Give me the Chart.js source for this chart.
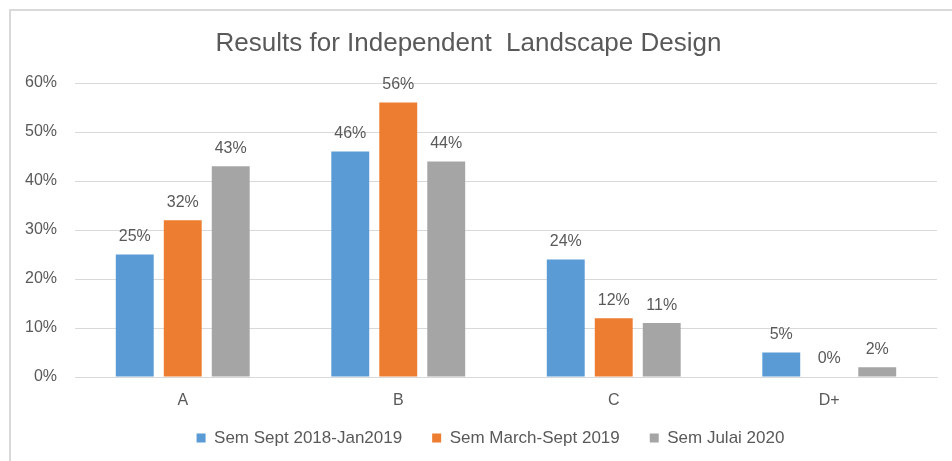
<!DOCTYPE html>
<html>
<head>
<meta charset="utf-8">
<script src="https://cdn.jsdelivr.net/npm/chart.js@4/dist/chart.umd.min.js"></script>
<style>
  html, body { margin: 0; padding: 0; background: #fff; }
  #wrap { position: relative; width: 952px; height: 461px; overflow: hidden; }
  #frame { position: absolute; left: 9px; top: 9px; right: -5px; bottom: -5px; border-left: 2px solid #d9d9d9; border-top: 2px solid #d9d9d9; }
  canvas { position: absolute; left: 0; top: 0; }
</style>
</head>
<body>
<div id="wrap">
  <div id="frame"></div>
  <canvas id="c" width="952" height="461"></canvas>
</div>
<script>
const categories = ["A", "B", "C", "D+"];
const seriesNames = ["Sem Sept 2018-Jan2019", "Sem March-Sept 2019", "Sem Julai 2020"];
const semSept2018 = [25, 46, 24, 5];
const semMarch2019 = [32, 56, 12, 0];
const semJulai2020 = [43, 44, 11, 2];
const yTicks = [0, 10, 20, 30, 40, 50, 60];
const colors = ["#5B9BD5", "#ED7D31", "#A5A5A5"];

const textColor = "#595959";
const fontFamily = "'Liberation Sans', 'DejaVu Sans', sans-serif";

const valueLabels = {
  id: "valueLabels",
  afterDatasetsDraw(chart) {
    const ctx = chart.ctx;
    ctx.save();
    ctx.fillStyle = textColor;
    ctx.font = "16px " + fontFamily;
    ctx.textAlign = "center";
    ctx.textBaseline = "middle";
    chart.data.datasets.forEach((ds, i) => {
      const meta = chart.getDatasetMeta(i);
      meta.data.forEach((bar, j) => {
        ctx.fillText(ds.data[j] + "%", bar.x, bar.y - 18);
      });
    });
    ctx.restore();
  }
};

// move the legend row a little so it sits where the reference has it
const legendNudge = {
  id: "legendNudge",
  afterLayout(chart) {
    const lg = chart.legend;
    if (lg) {
      lg.top -= 10.5; lg.bottom -= 10.5;
      lg.left += 22; lg.right += 22;
    }
  }
};

new Chart(document.getElementById("c"), {
  type: "bar",
  data: {
    labels: categories,
    datasets: [
      { label: seriesNames[0], data: semSept2018, backgroundColor: colors[0] },
      { label: seriesNames[1], data: semMarch2019, backgroundColor: colors[1] },
      { label: seriesNames[2], data: semJulai2020, backgroundColor: colors[2] }
    ]
  },
  options: {
    responsive: false,
    animation: false,
    devicePixelRatio: 1,
    datasets: { bar: { categoryPercentage: 0.668, barPercentage: 0.79 } },
    layout: { padding: { left: 0, right: 15, top: 0, bottom: -6 } },
    plugins: {
      title: {
        display: true,
        text: "Results for Independent  Landscape Design",
        color: textColor,
        font: { family: fontFamily, size: 26, weight: "normal" },
        padding: { top: 28.4, bottom: 23.4 }
      },
      legend: {
        position: "bottom",
        labels: {
          color: textColor,
          font: { family: fontFamily, size: 17 },
          boxWidth: 9,
          boxHeight: 9,
          padding: 30
        }
      },
      tooltip: { enabled: false }
    },
    scales: {
      x: {
        afterFit(scale) { scale.height = 33; },
        grid: { display: false, drawTicks: false },
        border: { color: "#d9d9d9", width: 1 },
        ticks: { color: textColor, font: { family: fontFamily, size: 16 }, padding: 14 }
      },
      y: {
        min: 0,
        max: 60,
        afterFit(scale) { scale.width = 75; },
        afterBuildTicks(scale) { scale.ticks = yTicks.map(v => ({ value: v })); },
        grid: { color: "#d9d9d9", drawTicks: false },
        border: { display: false },
        ticks: {
          color: textColor,
          font: { family: fontFamily, size: 16 },
          padding: 18,
          callback: v => v + "%"
        }
      }
    }
  },
  plugins: [valueLabels, legendNudge]
});
</script>
</body>
</html>
